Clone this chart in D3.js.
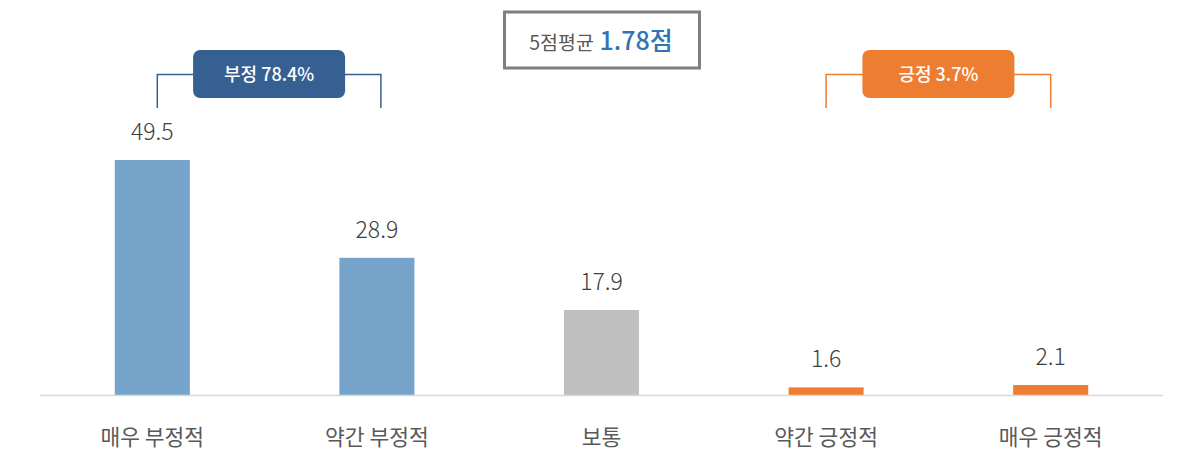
<!DOCTYPE html>
<html>
<head>
<meta charset="utf-8">
<script src="https://cdn.jsdelivr.net/npm/d3@7"></script>
<style>
  body { margin: 0; background: #fff; }
  svg { font-family: "Noto Sans CJK KR", "Noto Sans", sans-serif; }
</style>
</head>
<body>
<svg id="chart" width="1192" height="472"></svg>
<script>
// data
const categories = ["매우 부정적", "약간 부정적", "보통", "약간 긍정적", "매우 긍정적"]
const values = [49.5, 28.9, 17.9, 1.6, 2.1]
const groups = ["neg", "neg", "mid", "pos", "pos"]
const brackets = [
    { label: "부정 78.4%", from: "매우 부정적", to: "약간 부정적", group: "neg" },
    { label: "긍정 3.7%", from: "약간 긍정적", to: "매우 긍정적", group: "pos" }
]
const avgLabel = "5점평균"
const avgValue = "1.78점"

const colors = { neg: "#75a3c9", mid: "#bfbfbf", pos: "#ed7d31" }
const bracketColors = { neg: "#376092", pos: "#ed7d31" }

const svg = d3.select('#chart')
const baseY = 395

const x = d3.scaleBand()
    .domain(categories)
    .range([40, 1163])
    .paddingInner(0.666)
    .paddingOuter(0.333)

const y = d3.scaleLinear()
    .domain([0, 49.5])
    .range([baseY, 160])

const rows = categories.map((c, i) => ({ cat: c, value: values[i], group: groups[i] }))

// bars
svg.append('g')
    .selectAll('rect')
    .data(rows)
    .join('rect')
    .attr('x', d => x(d.cat))
    .attr('y', d => y(d.value))
    .attr('width', x.bandwidth())
    .attr('height', d => y(0) - y(d.value))
    .attr('fill', d => colors[d.group])

// baseline
svg.append('line')
    .attr('x1', 40).attr('x2', 1163)
    .attr('y1', baseY + 0.5).attr('y2', baseY + 0.5)
    .attr('stroke', '#d9d9d9')
    .attr('stroke-width', 1.5)

// value labels
svg.append('g')
    .selectAll('text')
    .data(rows)
    .join('text')
    .text(d => d.value)
    .attr('x', d => x(d.cat) + x.bandwidth() / 2)
    .attr('y', d => y(d.value) - 20)
    .attr('text-anchor', 'middle')
    .attr('font-size', 23)
    .attr('font-weight', 300)
    .attr('fill', '#404040')

// category labels
svg.append('g')
    .selectAll('text')
    .data(rows)
    .join('text')
    .text(d => d.cat)
    .attr('x', d => x(d.cat) + x.bandwidth() / 2)
    .attr('y', 445)
    .attr('text-anchor', 'middle')
    .attr('font-size', 21.5)
    .attr('fill', '#595959')

// brackets with labels
const mid = c => x(c) + x.bandwidth() / 2
brackets.forEach(b => {
    const x1 = mid(b.from) + (b.group === 'neg' ? 5 : 0)
    const x2 = mid(b.to) + (b.group === 'neg' ? 4 : 0)
    const cx = (x1 + x2) / 2
    const g = svg.append('g')
    g.append('path')
        .attr('d', `M${x1},108V74.5H${x2}V108`)
        .attr('fill', 'none')
        .attr('stroke', bracketColors[b.group])
        .attr('stroke-width', 1.5)
    g.append('rect')
        .attr('x', cx - 76)
        .attr('y', 50)
        .attr('width', 152)
        .attr('height', 48)
        .attr('rx', 7)
        .attr('fill', bracketColors[b.group])
    g.append('text')
        .text(b.label)
        .attr('x', cx)
        .attr('y', 81)
        .attr('text-anchor', 'middle')
        .attr('font-size', 18)
        .attr('font-weight', 500)
        .attr('fill', '#fff')
})

// average box
svg.append('rect')
    .attr('x', 504.5)
    .attr('y', 12)
    .attr('width', 195)
    .attr('height', 56)
    .attr('fill', '#fff')
    .attr('stroke', '#7f7f7f')
    .attr('stroke-width', 3)

const avgText = svg.append('text')
    .attr('x', 601)
    .attr('y', 50)
    .attr('text-anchor', 'middle')
avgText.append('tspan')
    .text(avgLabel)
    .attr('font-size', 19.5)
    .attr('fill', '#595959')
avgText.append('tspan')
    .text(' ' + avgValue)
    .attr('font-size', 25)
    .attr('font-weight', 500)
    .attr('fill', '#2e75b6')
</script>
</body>
</html>
